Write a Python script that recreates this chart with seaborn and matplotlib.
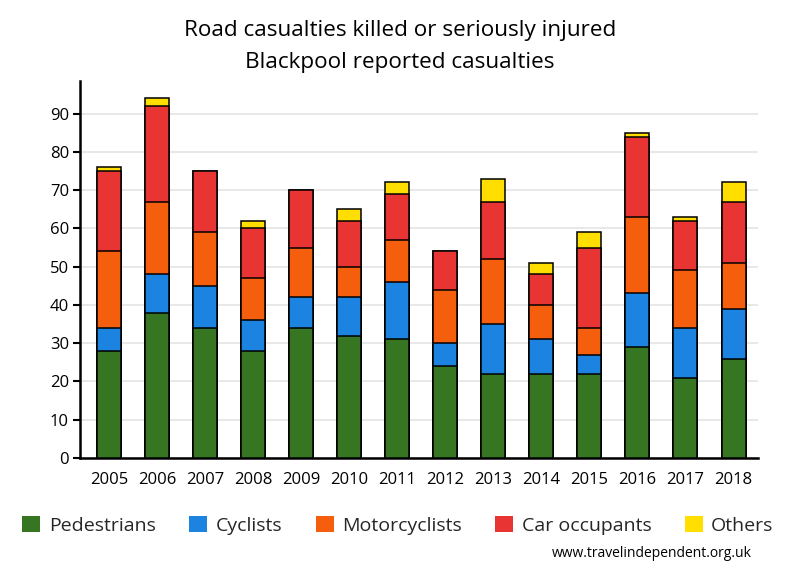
import matplotlib
matplotlib.use("Agg")
import matplotlib.pyplot as plt
from matplotlib.patches import Patch
import seaborn as sns
import pandas as pd
import numpy as np

years = ["2005", "2006", "2007", "2008", "2009", "2010", "2011",
         "2012", "2013", "2014", "2015", "2016", "2017", "2018"]
pedestrians   = [28, 38, 34, 28, 34, 32, 31, 24, 22, 22, 22, 29, 21, 26]
cyclists      = [6, 10, 11, 8, 8, 10, 15, 6, 13, 9, 5, 14, 13, 13]
motorcyclists = [20, 19, 14, 11, 13, 8, 11, 14, 17, 9, 7, 20, 15, 12]
car_occupants = [21, 25, 16, 13, 15, 12, 12, 10, 15, 8, 21, 21, 13, 16]
others        = [1, 2, 0, 2, 0, 3, 3, 0, 6, 3, 4, 1, 1, 5]

series_names = ["Pedestrians", "Cyclists", "Motorcyclists", "Car occupants", "Others"]
colors = ["#367522", "#1c84e0", "#f45e0c", "#e93434", "#ffde00"]

df = pd.DataFrame({
    "Year": years,
    "Pedestrians": pedestrians,
    "Cyclists": cyclists,
    "Motorcyclists": motorcyclists,
    "Car occupants": car_occupants,
    "Others": others,
})
cum = df[series_names].cumsum(axis=1)
cum["Year"] = df["Year"]

sns.set_theme(style="white")
plt.rcParams["font.family"] = ["Open Sans", "DejaVu Sans"]

fig = plt.figure(figsize=(8, 5.8), dpi=100)
ax = fig.add_axes([0.1, 0.2103, 0.8475, 0.65])

for name, col in reversed(list(zip(series_names, colors))):
    sns.barplot(data=cum, x="Year", y=name, color=col, width=0.5,
                edgecolor="black", linewidth=1.1, saturation=1, ax=ax,
                zorder=3, order=years)

ax.set_ylim(0, 98.5)
ax.set_xlim(-0.61, 13.51)
ax.set_yticks(range(0, 91, 10))
ax.yaxis.grid(True, color="#e6e6e6", linewidth=1.3, zorder=0)
ax.set_axisbelow(True)
ax.set_xlabel("")
ax.set_ylabel("")
for s in ["top", "right"]:
    ax.spines[s].set_visible(False)
for s in ["left", "bottom"]:
    ax.spines[s].set_color("black")
    ax.spines[s].set_linewidth(1.8)
ax.tick_params(axis="y", length=5, width=1.5, color="black", labelsize=12, pad=3, left=True)
ax.tick_params(axis="x", length=0, labelsize=12, pad=10)
for lab in ax.get_xticklabels() + ax.get_yticklabels():
    lab.set_color("black")

fig.text(0.5, 0.948, "Road casualties killed or seriously injured", ha="center", va="center",
         fontsize=16.2, color="black")
fig.text(0.5, 0.892, "Blackpool reported casualties", ha="center", va="center",
         fontsize=16.2, color="black")

handles = [Patch(facecolor=c, edgecolor="none", label=n) for n, c in zip(series_names, colors)]
fig.legend(handles=handles, loc="center", bbox_to_anchor=(0.4975, 0.094), ncol=5, frameon=False,
           fontsize=14, handlelength=0.93, handleheight=0.88, handletextpad=0.42,
           columnspacing=1.73, borderaxespad=0)

fig.text(0.94, 0.045, "www.travelindependent.org.uk", ha="right", va="center",
         fontsize=10, color="black")

fig.savefig("out.png", dpi=100, facecolor="white")
